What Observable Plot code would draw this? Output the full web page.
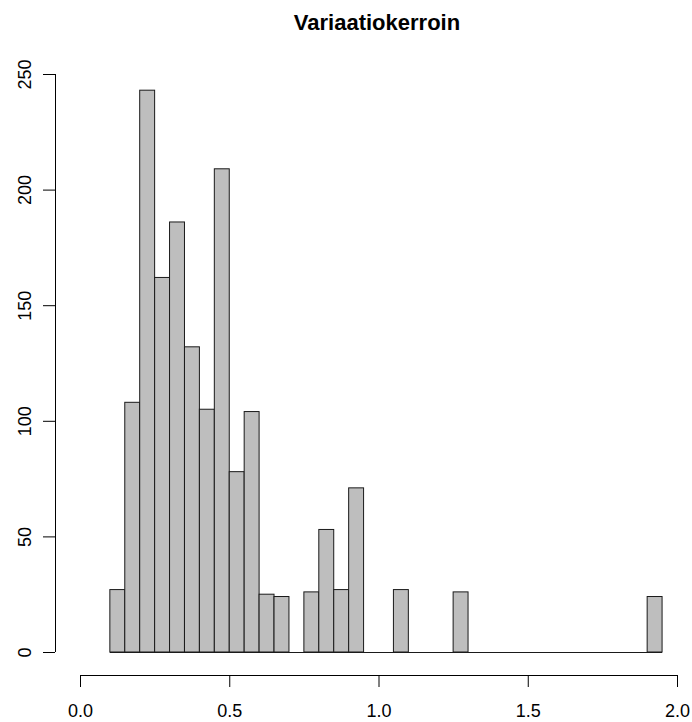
<!DOCTYPE html>
<html>
<head>
<meta charset="utf-8">
<script src="https://cdn.jsdelivr.net/npm/d3@7"></script>
<script src="https://cdn.jsdelivr.net/npm/@observablehq/plot@0.6"></script>
<style>
  html, body { margin: 0; padding: 0; background: #ffffff; }
  #chart { width: 692px; height: 722px; overflow: hidden; }
</style>
</head>
<body>
<div id="chart"></div>
<script>
const title = "Variaatiokerroin";
const breaks = [0.10, 0.15, 0.20, 0.25, 0.30, 0.35, 0.40, 0.45, 0.50, 0.55,
                0.60, 0.65, 0.70, 0.75, 0.80, 0.85, 0.90, 0.95, 1.00, 1.05,
                1.10, 1.15, 1.20, 1.25, 1.30, 1.35, 1.40, 1.45, 1.50, 1.55,
                1.60, 1.65, 1.70, 1.75, 1.80, 1.85, 1.90, 1.95];
const counts = [27, 108, 243, 162, 186, 132, 105, 209, 78, 104,
                25, 24, 0, 26, 53, 27, 71, 0, 0, 27,
                0, 0, 0, 26, 0, 0, 0, 0, 0, 0,
                0, 0, 0, 0, 0, 0, 24];
const xTicks = [0.0, 0.5, 1.0, 1.5, 2.0];
const yTicks = [0, 50, 100, 150, 200, 250];

const bins = counts.map((c, i) => ({x1: breaks[i], x2: breaks[i + 1], count: c}));

const font = "'Liberation Sans', Arial, sans-serif";

const chart = Plot.plot({
  width: 692,
  height: 722,
  marginLeft: 80,
  marginRight: 15,
  marginTop: 74,
  marginBottom: 70,
  style: {background: "#ffffff", fontFamily: font, color: "#000", overflow: "visible"},
  x: {domain: [xTicks[0], xTicks[xTicks.length - 1]]},
  y: {domain: [yTicks[0], yTicks[yTicks.length - 1]]},
  marks: [
    Plot.rectY(bins, {x1: "x1", x2: "x2", y1: 0, y2: "count", fill: "#bebebe", stroke: "#1a1a1a", strokeWidth: 1, inset: 0}),
    // baseline of the histogram (zero-count bins drawn as flat lines)
    Plot.ruleY([0], {x1: breaks[0], x2: breaks[breaks.length - 1], stroke: "#1a1a1a", strokeWidth: 1}),
    // x axis
    Plot.ruleY([0], {x1: xTicks[0], x2: xTicks[xTicks.length - 1], dy: 23, stroke: "#000", strokeWidth: 1}),
    Plot.axisX({ticks: xTicks, tickSize: 12, tickPadding: 16.5, dy: 23, tickFormat: d3.format(".1f"), fontSize: 18, label: null, stroke: "#000", fill: "#000"}),
    // y axis
    Plot.ruleX([0], {y1: yTicks[0], y2: yTicks[yTicks.length - 1], dx: -25, stroke: "#000", strokeWidth: 1}),
    Plot.axisY({ticks: yTicks, tickSize: 12, dx: -25, tickFormat: () => "", label: null, stroke: "#000"}),
    Plot.text(yTicks, {y: d => d, frameAnchor: "left", text: d => String(d), rotate: -90, dx: -55, textAnchor: "middle", lineAnchor: "middle", fontSize: 18, fill: "#000"}),
    // title
    Plot.text([title], {frameAnchor: "top", dx: -2, dy: -44.5, lineAnchor: "bottom", textAnchor: "middle", fontSize: 22, fontWeight: "bold", fill: "#000"})
  ]
});
document.getElementById("chart").appendChild(chart);
</script>
</body>
</html>
